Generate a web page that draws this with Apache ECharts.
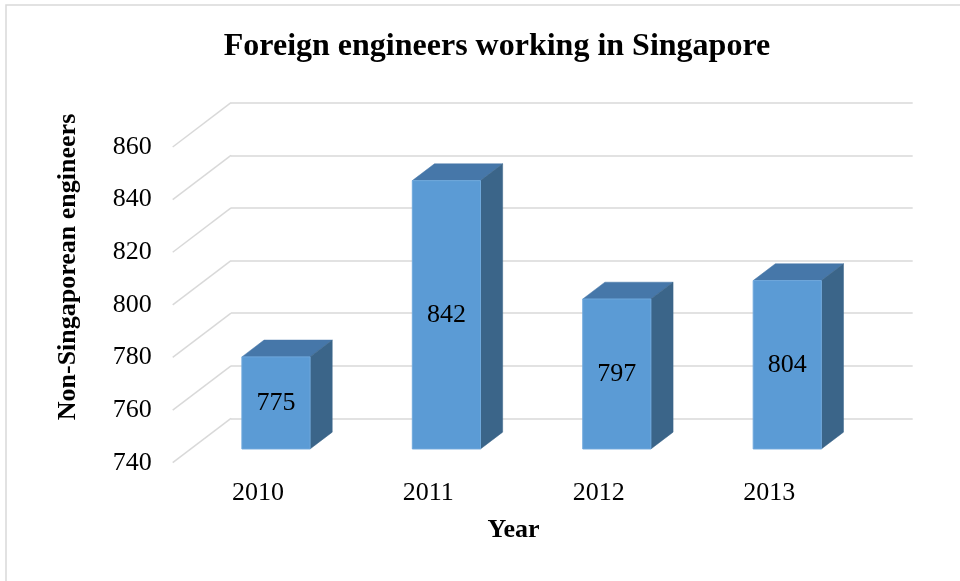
<!DOCTYPE html>
<html>
<head>
<meta charset="utf-8">
<script src="https://cdn.jsdelivr.net/npm/echarts@6/dist/echarts.min.js"></script>
<style>html,body{margin:0;padding:0;background:#fff}#c{width:960px;height:581px}</style>
</head>
<body>
<div id="c"></div>
<script>
// ---- data ----
const years = ['2010', '2011', '2012', '2013'];
const engineers = [775, 842, 797, 804];
const yTicks = [740, 760, 780, 800, 820, 840, 860];
const titleText = 'Foreign engineers working in Singapore';
const xName = 'Year';
const yName = 'Non-Singaporean engineers';

// ---- layout / style ----
const FONT = '"Liberation Serif", "Times New Roman", serif';
const DX = 58.3, DY = -44.3;          // depth offset front -> back wall
const FRONT = {left: 172.7, top: 147, right: 105.6, bottom: 118.3};
const BACK = {left: FRONT.left + DX, top: FRONT.top + DY, right: FRONT.right - DX, bottom: FRONT.bottom - DY};
const T0 = 0.31, T1 = 0.69, BARW = 0.4;
const GRID_COLOR = '#d9d9d9';

const chart = echarts.init(document.getElementById('c'), null, {renderer: 'canvas'});

function barItem(params, api) {
  const i = api.value(0), v = api.value(1);
  const base = api.coord([i, yTicks[0]]);
  const top = api.coord([i, v]);
  const band = api.size([1, 0])[0];
  const w = band * BARW;
  const x0 = base[0] - w / 2 + T0 * DX;
  const yb = base[1] + T0 * DY;
  const yt = top[1] + T0 * DY;
  const ox = (T1 - T0) * DX, oy = (T1 - T0) * DY;
  return {
    type: 'group',
    children: [
      {type: 'polygon', shape: {points: [[x0, yt], [x0 + w, yt], [x0 + w + ox, yt + oy], [x0 + ox, yt + oy]]},
       style: {fill: '#4677a9', stroke: '#4677a9', lineWidth: 0.5}},
      {type: 'polygon', shape: {points: [[x0 + w, yt], [x0 + w + ox, yt + oy], [x0 + w + ox, yb + oy], [x0 + w, yb]]},
       style: {fill: '#3b6589', stroke: '#3b6589', lineWidth: 0.5}},
      {type: 'rect', shape: {x: x0, y: yt, width: w, height: yb - yt},
       style: {fill: '#5b9bd5', stroke: '#6fa8dc', lineWidth: 1}},
      {type: 'text', x: x0 + w / 2, y: (yt + yb) / 2,
       style: {text: String(v), font: '26px ' + FONT, fill: '#000', align: 'center', verticalAlign: 'middle'}}
    ]
  };
}

function diagItem(params, api) {
  const v = api.value(0);
  const p = api.coord([0, v]);
  const band = api.size([1, 0])[0];
  const x = p[0] - band / 2;
  return {
    type: 'line',
    shape: {x1: x, y1: p[1], x2: x + DX, y2: p[1] + DY},
    style: {stroke: GRID_COLOR, lineWidth: 1.5}
  };
}

const option = {
  backgroundColor: '#fff',
  animation: false,
  title: {
    text: titleText, left: 492, top: 26, textAlign: 'center',
    textStyle: {fontFamily: FONT, fontSize: 32, fontWeight: 'bold', color: '#000'}
  },
  grid: [
    Object.assign({}, BACK),
    Object.assign({}, FRONT)
  ],
  xAxis: [
    {gridIndex: 0, type: 'category', data: years, show: false},
    {gridIndex: 1, type: 'category', data: years,
     axisLine: {show: false}, axisTick: {show: false},
     axisLabel: {margin: 17, fontFamily: FONT, fontSize: 26, color: '#000'},
     name: xName, nameLocation: 'middle', nameGap: 55,
     nameTextStyle: {fontFamily: FONT, fontSize: 26, fontWeight: 'bold', color: '#000'}}
  ],
  yAxis: [
    {gridIndex: 0, type: 'value', min: 740, max: 860, interval: 20,
     axisLine: {show: false}, axisTick: {show: false}, axisLabel: {show: false},
     splitLine: {show: true, lineStyle: {color: GRID_COLOR, width: 1.5}}},
    {gridIndex: 1, type: 'value', min: 740, max: 860, interval: 20,
     axisLine: {show: false}, axisTick: {show: false}, splitLine: {show: false},
     axisLabel: {margin: 21, fontFamily: FONT, fontSize: 26, color: '#000'}}
  ],
  graphic: [
    {type: 'rect', shape: {x: 6, y: 5, width: 980, height: 600}, style: {fill: 'none', stroke: '#d9d9d9', lineWidth: 1.5}, silent: true},
    {type: 'text', x: 68, y: 267, rotation: Math.PI / 2,
     style: {text: yName, font: 'bold 26px ' + FONT, fill: '#000', align: 'center', verticalAlign: 'middle'}}
  ],
  series: [
    {type: 'custom', xAxisIndex: 1, yAxisIndex: 1, renderItem: diagItem,
     data: yTicks.map(v => [v]), encode: {y: 0}, silent: true, z: 1},
    {type: 'custom', xAxisIndex: 1, yAxisIndex: 1, renderItem: barItem,
     data: engineers.map((v, i) => [i, v]), encode: {x: 0, y: 1}, z: 5}
  ]
};
chart.setOption(option);
</script>
</body>
</html>
